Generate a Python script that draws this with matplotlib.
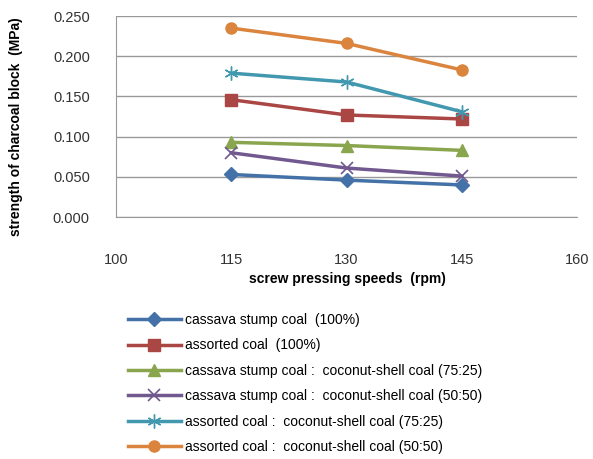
# Strength of charcoal block vs screw pressing speed
import matplotlib.pyplot as plt

plt.rcParams['font.family'] = ['Liberation Sans', 'DejaVu Sans']

# X axis
speeds = [115, 130, 145]

# Y values (MPa)
cassava_100 = [0.053, 0.046, 0.040]
assorted_100 = [0.146, 0.127, 0.122]
cassava_75_25 = [0.093, 0.089, 0.083]
cassava_50_50 = [0.080, 0.061, 0.051]
assorted_75_25 = [0.179, 0.168, 0.131]
assorted_50_50 = [0.235, 0.216, 0.183]

labels = ["cassava stump coal  (100%)",
          "assorted coal  (100%)",
          "cassava stump coal :  coconut-shell coal (75:25)",
          "cassava stump coal :  coconut-shell coal (50:50)",
          "assorted coal :  coconut-shell coal (75:25)",
          "assorted coal :  coconut-shell coal (50:50)"]

fig = plt.figure(figsize=(5.93, 4.59), dpi=100)
ax = fig.add_axes([0.196, 0.527, 0.777, 0.438])

ax.plot(speeds, cassava_100, color='#4472a8', marker='D', markersize=7, lw=2.5, label=labels[0])
ax.plot(speeds, assorted_100, color='#aa4643', marker='s', markersize=8, lw=2.5, label=labels[1])
ax.plot(speeds, cassava_75_25, color='#89a54e', marker='^', markersize=8, lw=2.5, label=labels[2])
ax.plot(speeds, cassava_50_50, color='#71588f', marker='x', markersize=8, mew=1.2, lw=2.5, label=labels[3])
ax.plot(speeds, assorted_75_25, color='#4198af', marker=(6, 2, 0), markersize=10, mew=1.0, lw=2.5, label=labels[4])
ax.plot(speeds, assorted_50_50, color='#db843d', marker='o', markersize=8, lw=2.5, label=labels[5])

ax.set_xlim(100, 160)
ax.set_ylim(0, 0.25)
ax.set_xticks([100, 115, 130, 145, 160])
ax.set_yticks([0, 0.05, 0.1, 0.15, 0.2, 0.25])
ax.set_yticklabels(["0.000", "0.050", "0.100", "0.150", "0.200", "0.250"])
ax.tick_params(length=0, labelsize=10.5, colors='#333333')
ax.tick_params(axis='x', pad=26)
ax.tick_params(axis='y', pad=19)
ax.grid(axis='y', color='#999999', lw=1)
ax.set_axisbelow(True)
for s in ['top', 'right']:
    ax.spines[s].set_visible(False)
ax.spines['left'].set_color('#999999')
ax.spines['bottom'].set_color('#999999')

ax.set_xlabel("screw pressing speeds  (rpm)", fontweight='bold', fontsize=10)
ax.xaxis.set_label_coords(0.502, -0.274)
ax.set_ylabel("strength of charcoal block  (MPa)", fontweight='bold', fontsize=10)
ax.yaxis.set_label_coords(-0.203, 0.45)

fig.legend(loc='upper left', bbox_to_anchor=(0.216, 0.318), frameon=False,
           fontsize=10, handlelength=3.8, labelspacing=0.82, handletextpad=0.3,
           borderpad=0, borderaxespad=0)

plt.savefig('out.png', dpi=100)
